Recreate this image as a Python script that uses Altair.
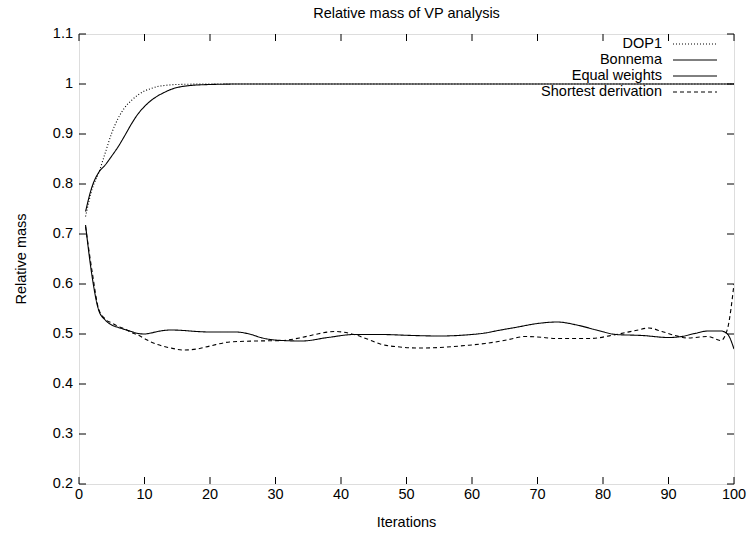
import altair as alt
import pandas as pd

FONT = "Liberation Sans"
FS = 14.5

series_names = ["DOP1", "Bonnema", "Equal weights", "Shortest derivation"]

dop1_iter = [1, 2, 3, 4, 5, 6, 7, 8, 9, 10, 11, 12, 13, 15, 20, 100]
dop1_val = [0.735, 0.79, 0.822, 0.862, 0.902, 0.932, 0.953, 0.967, 0.978, 0.986, 0.991, 0.995, 0.997, 0.999, 1.0, 1.0]

bon_iter = [1, 2, 3, 4, 5, 6, 7, 8, 9, 10, 11, 12, 13, 14, 15, 17, 20, 25, 100]
bon_val = [0.745, 0.795, 0.823, 0.838, 0.856, 0.875, 0.897, 0.92, 0.94, 0.955, 0.967, 0.976, 0.983, 0.989, 0.993, 0.997, 0.999, 1.0, 1.0]

eq_iter = [1, 2, 3, 4, 5, 6, 7, 8, 9, 10, 11, 12, 14, 16, 18, 20, 24, 26, 28, 31, 34, 38, 42,
           46, 51, 55, 59, 62, 64, 67, 70, 73, 76, 79, 82, 86, 90, 92, 94, 96, 98, 99, 100]
eq_val = [0.718, 0.615, 0.548, 0.528, 0.518, 0.513, 0.509, 0.505, 0.501, 0.5, 0.502, 0.505, 0.508,
          0.507, 0.505, 0.504, 0.504, 0.5, 0.492, 0.487, 0.486, 0.493, 0.499, 0.499, 0.497, 0.496,
          0.498, 0.502, 0.507, 0.514, 0.521, 0.524, 0.518, 0.508, 0.499, 0.497, 0.493, 0.495,
          0.501, 0.506, 0.506, 0.5, 0.47]

sd_iter = [1, 2, 3, 4, 5, 6, 7, 8, 9, 10, 11, 12, 14, 16, 18, 20, 23, 27, 31, 34, 36, 39, 42, 44,
           46, 49, 52, 55, 59, 62, 64, 66, 68, 70, 73, 78, 82, 85, 87, 89, 91, 93, 96, 98, 99, 100]
sd_val = [0.715, 0.625, 0.55, 0.53, 0.522, 0.515, 0.51, 0.503, 0.498, 0.491, 0.484, 0.479, 0.472,
          0.468, 0.47, 0.476, 0.484, 0.486, 0.487, 0.493, 0.499, 0.505, 0.499, 0.49, 0.48, 0.474,
          0.472, 0.473, 0.477, 0.481, 0.485, 0.49, 0.495, 0.494, 0.491, 0.491, 0.499, 0.507, 0.512,
          0.505, 0.497, 0.492, 0.495, 0.487, 0.51, 0.6]

x_ticks = [0, 10, 20, 30, 40, 50, 60, 70, 80, 90, 100]
y_ticks = [0.2, 0.3, 0.4, 0.5, 0.6, 0.7, 0.8, 0.9, 1.0, 1.1]
y_tick_labels = ["0.2", "0.3", "0.4", "0.5", "0.6", "0.7", "0.8", "0.9", "1", "1.1"]

title_text = "Relative mass of VP analysis"
x_title = "Iterations"
y_title = "Relative mass"

dash_styles = [[1, 2], [1, 0], [1, 0], [4, 3]]

W, H = 655, 450
TICK = 7

frames = []
for name, it, vals in [
    ("DOP1", dop1_iter, dop1_val),
    ("Bonnema", bon_iter, bon_val),
    ("Equal weights", eq_iter, eq_val),
    ("Shortest derivation", sd_iter, sd_val),
]:
    frames.append(pd.DataFrame({"series": name, "iteration": it, "value": vals}))
df = pd.concat(frames, ignore_index=True)

xscale = alt.Scale(domain=[0, 100], nice=False, zero=False)
yscale = alt.Scale(domain=[0.2, 1.1], nice=False, zero=False)

lines = alt.Chart(df).mark_line(color="black", strokeWidth=1.1, interpolate="monotone", clip=True).encode(
    x=alt.X("iteration:Q", scale=xscale, axis=None),
    y=alt.Y("value:Q", scale=yscale, axis=None),
    strokeDash=alt.StrokeDash("series:N", scale=alt.Scale(domain=series_names, range=dash_styles),
                              legend=None),
    detail="series:N",
)

xt = pd.DataFrame({"t": x_ticks})
yt = pd.DataFrame({"t": y_ticks, "label": y_tick_labels})

xb = alt.Chart(xt).mark_rule(color="black", strokeWidth=1).encode(
    x=alt.X("t:Q", scale=xscale, axis=None), y=alt.value(H), y2=alt.value(H - TICK))
xtop = alt.Chart(xt).mark_rule(color="black", strokeWidth=1).encode(
    x=alt.X("t:Q", scale=xscale, axis=None), y=alt.value(0), y2=alt.value(TICK))
yl = alt.Chart(yt).mark_rule(color="black", strokeWidth=1).encode(
    y=alt.Y("t:Q", scale=yscale, axis=None), x=alt.value(0), x2=alt.value(TICK))
yr = alt.Chart(yt).mark_rule(color="black", strokeWidth=1).encode(
    y=alt.Y("t:Q", scale=yscale, axis=None), x=alt.value(W), x2=alt.value(W - TICK))

xlab = alt.Chart(xt).mark_text(align="center", baseline="top", font=FONT, fontSize=FS,
                               color="black").encode(
    x=alt.X("t:Q", scale=xscale, axis=None), y=alt.value(H + 4),
    text=alt.Text("t:Q", format="d"))
ylab = alt.Chart(yt).mark_text(align="right", baseline="middle", font=FONT, fontSize=FS,
                               color="black").encode(
    y=alt.Y("t:Q", scale=yscale, axis=None), x=alt.value(-6), text="label:N")

tdf = pd.DataFrame({"title": [title_text], "xt": [x_title], "yt": [y_title]})
title_mark = alt.Chart(tdf).mark_text(align="center", baseline="alphabetic", font=FONT,
                                      fontSize=FS, color="black").encode(
    text="title:N", x=alt.value(W / 2), y=alt.value(-16))
xtitle_mark = alt.Chart(tdf).mark_text(align="center", baseline="middle", font=FONT,
                                       fontSize=FS, color="black").encode(
    text="xt:N", x=alt.value(W / 2), y=alt.value(H + 39))
ytitle_mark = alt.Chart(tdf).mark_text(align="center", baseline="middle", font=FONT,
                                       fontSize=FS, color="black", angle=270).encode(
    text="yt:N", x=alt.value(-57), y=alt.value(H / 2))

legend_layers = []
row_y = [10, 26, 42, 58]
for name, dash, yy in zip(series_names, dash_styles, row_y):
    ldf = pd.DataFrame({"label": [name]})
    legend_layers.append(
        alt.Chart(ldf).mark_text(align="right", baseline="middle", font=FONT, fontSize=FS,
                                 color="black").encode(
            text="label:N", x=alt.value(583), y=alt.value(yy)))
    legend_layers.append(
        alt.Chart(ldf).mark_rule(color="black", strokeWidth=1, strokeDash=dash).encode(
            x=alt.value(594), x2=alt.value(638), y=alt.value(yy)))

chart = alt.layer(lines, xb, xtop, yl, yr, xlab, ylab, title_mark, xtitle_mark, ytitle_mark,
                  *legend_layers).properties(
    width=W, height=H,
    autosize=alt.AutoSizeParams(type="none"),
    padding={"left": 79, "top": 34, "right": 20, "bottom": 50},
).configure_view(stroke="black", strokeWidth=1).configure(background="white")

chart.save("out.html", embed_options={"renderer": "svg", "actions": False})
